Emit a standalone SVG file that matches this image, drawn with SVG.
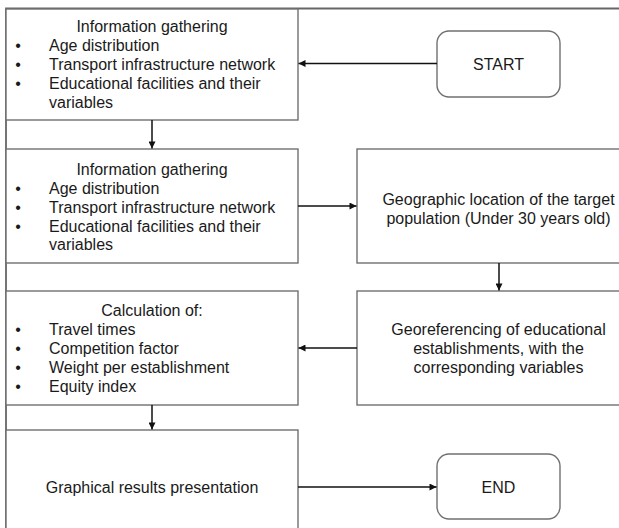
<svg xmlns="http://www.w3.org/2000/svg" width="619" height="528" viewBox="0 0 619 528">
<defs>
<style>
.box{fill:#fff;stroke:#707070;stroke-width:1.4}
.frame{fill:none;stroke:#666;stroke-width:1.8}
.t{font-family:"Liberation Sans",Arial,sans-serif;font-size:16px;fill:#1a1a1a}
.c{text-anchor:middle}
.b{text-anchor:middle}
.conn{stroke:#111;stroke-width:1.5;fill:none;marker-end:url(#ah)}
</style>
<marker id="ah" viewBox="0 0 10 10" refX="10" refY="5" markerWidth="8" markerHeight="7" markerUnits="userSpaceOnUse" orient="auto">
<path d="M0,0 L10,5 L0,10 z" fill="#111"/>
</marker>
</defs>
<rect width="619" height="528" fill="#fff"/>
<g id="frame">
<path class="frame" d="M6,528 L6,8.5 L619,8.5"/>
</g>
<g id="info1">
<rect class="box" x="6" y="9" width="292" height="111"/>
<text class="t c" x="152" y="32">Information gathering</text>
<text class="t b" x="18" y="51">•</text><text class="t" x="49" y="51">Age distribution</text>
<text class="t b" x="18" y="70">•</text><text class="t" x="49" y="70">Transport infrastructure network</text>
<text class="t b" x="18" y="89">•</text><text class="t" x="49" y="89">Educational facilities and their</text>
<text class="t" x="49" y="108">variables</text>
</g>
<g id="start">
<rect class="box" x="437" y="31" width="123" height="66" rx="12"/>
<text class="t c" x="498.5" y="70">START</text>
</g>
<g id="info2">
<rect class="box" x="6" y="149" width="292" height="114"/>
<text class="t c" x="152" y="175">Information gathering</text>
<text class="t b" x="18" y="194">•</text><text class="t" x="49" y="194">Age distribution</text>
<text class="t b" x="18" y="213">•</text><text class="t" x="49" y="213">Transport infrastructure network</text>
<text class="t b" x="18" y="232">•</text><text class="t" x="49" y="232">Educational facilities and their</text>
<text class="t" x="49" y="250">variables</text>
</g>
<g id="geo">
<rect class="box" x="357" y="149" width="290" height="114"/>
<text class="t c" x="498.5" y="205">Geographic location of the target</text>
<text class="t c" x="498.5" y="224">population (Under 30 years old)</text>
</g>
<g id="georef">
<rect class="box" x="357" y="291" width="290" height="114"/>
<text class="t c" x="498.5" y="335">Georeferencing of educational</text>
<text class="t c" x="498.5" y="354">establishments, with the</text>
<text class="t c" x="498.5" y="373">corresponding variables</text>
</g>
<g id="calc">
<rect class="box" x="6" y="291" width="292" height="114"/>
<text class="t c" x="152" y="316">Calculation of:</text>
<text class="t b" x="18" y="335">•</text><text class="t" x="49" y="335">Travel times</text>
<text class="t b" x="18" y="354">•</text><text class="t" x="49" y="354">Competition factor</text>
<text class="t b" x="18" y="373">•</text><text class="t" x="49" y="373">Weight per establishment</text>
<text class="t b" x="18" y="392">•</text><text class="t" x="49" y="392">Equity index</text>
</g>
<g id="graph">
<rect class="box" x="6" y="430" width="292" height="110"/>
<text class="t c" x="152" y="493">Graphical results presentation</text>
</g>
<g id="end">
<rect class="box" x="437" y="454" width="123" height="65" rx="12"/>
<text class="t c" x="498.5" y="493">END</text>
</g>
<g id="connectors">
<line class="conn" x1="437" y1="63.5" x2="298.5" y2="63.5"/>
<line class="conn" x1="152" y1="120" x2="152" y2="148.5"/>
<line class="conn" x1="298" y1="206" x2="356.5" y2="206"/>
<line class="conn" x1="499" y1="263" x2="499" y2="290.5"/>
<line class="conn" x1="357" y1="348" x2="298.5" y2="348"/>
<line class="conn" x1="152" y1="405" x2="152" y2="429.5"/>
<line class="conn" x1="298" y1="487" x2="436.5" y2="487"/>
</g>
</svg>
